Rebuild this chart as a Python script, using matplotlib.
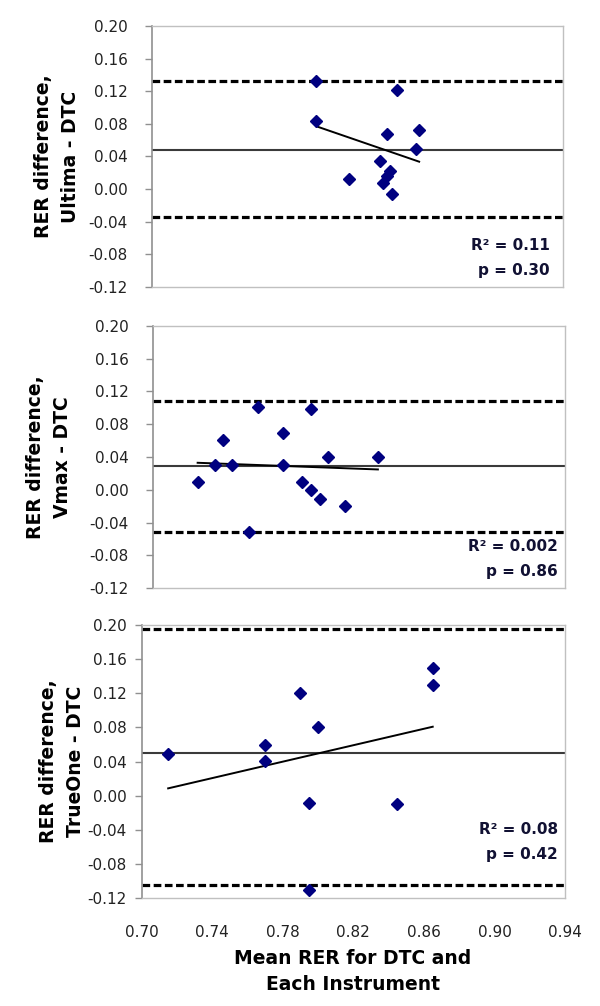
import numpy as np
import matplotlib
matplotlib.use("Agg")
import matplotlib.pyplot as plt

plt.rcParams['font.family'] = ['DejaVu Sans']

# ---------------- data ----------------
ultima_x = [0.796, 0.843, 0.796, 0.837, 0.856, 0.854, 0.833, 0.815, 0.839, 0.837, 0.835, 0.840]
ultima_y = [0.132, 0.121, 0.083, 0.068, 0.073, 0.049, 0.035, 0.013, 0.022, 0.016, 0.008, -0.006]

vmax_x = [0.726, 0.736, 0.741, 0.746, 0.761, 0.756, 0.776, 0.776, 0.787, 0.792, 0.792, 0.797, 0.802, 0.812, 0.831]
vmax_y = [0.010, 0.030, 0.061, 0.030, 0.101, -0.051, 0.069, 0.030, 0.010, 0.098, 0.000, -0.011, 0.040, -0.020, 0.040]

trueone_x = [0.715, 0.770, 0.770, 0.790, 0.800, 0.795, 0.795, 0.845, 0.865, 0.865]
trueone_y = [0.049, 0.060, 0.041, 0.120, 0.080, -0.009, -0.110, -0.010, 0.150, 0.130]

# bias and limits of agreement (mean, upper, lower)
ultima_limits = [0.048, 0.132, -0.034]
vmax_limits = [0.029, 0.108, -0.051]
trueone_limits = [0.050, 0.195, -0.104]

ylabels = ["RER difference,\nUltima - DTC", "RER difference,\nVmax - DTC", "RER difference,\nTrueOne - DTC"]
stats_text = [("R\u00b2 = 0.11", "p = 0.30"), ("R\u00b2 = 0.002", "p = 0.86"), ("R\u00b2 = 0.08", "p = 0.42")]

yticks = [-0.12, -0.08, -0.04, 0.00, 0.04, 0.08, 0.12, 0.16, 0.20]
xticks = [0.70, 0.74, 0.78, 0.82, 0.86, 0.90, 0.94]
xlabel = "Mean RER for DTC and\nEach Instrument"

# ---------------- layout ----------------
W, H = 600, 1006
fig = plt.figure(figsize=(W / 100, H / 100), dpi=100)

def box(l, r, t, b):
    return [l / W, 1 - b / H, (r - l) / W, (b - t) / H]

boxes = [box(152, 563, 26, 287), box(153, 565, 325.7, 588.3), box(141.7, 565, 625, 898.3)]
label_x = [57, 49, 62]
ypads = [13.5, 13.5, 7.0]
stat_pos = [(550, 245, 270), (558, 546.7, 571.7), (558, 829.3, 855)]

xs = [ultima_x, vmax_x, trueone_x]
ys = [ultima_y, vmax_y, trueone_y]
lims = [ultima_limits, vmax_limits, trueone_limits]

for i in range(3):
    ax = fig.add_axes(boxes[i])
    x = np.array(xs[i])
    y = np.array(ys[i])
    mean, up, lo = lims[i]
    ax.axhline(mean, color='#3a3a3a', lw=1.5, zorder=2)
    ax.axhline(up, color='black', lw=2.3, linestyle=(0, (2.4, 1.1)), zorder=2)
    ax.axhline(lo, color='black', lw=2.3, linestyle=(0, (2.4, 1.1)), zorder=2)
    # regression line
    k, c = np.polyfit(x, y, 1)
    xr = np.array([x.min(), x.max()])
    ax.plot(xr, k * xr + c, color='black', lw=1.4, zorder=3)
    ax.plot(x, y, linestyle='none', marker='D', markersize=6.3,
            color='#000080', markeredgecolor='#000080', zorder=4, clip_on=False)

    ax.set_xlim(0.70, 0.94)
    ax.set_ylim(-0.12, 0.20)
    ax.set_yticks(yticks)
    ax.set_yticklabels([f"{v:.2f}" for v in yticks])
    ax.tick_params(axis='y', direction='out', length=5, width=1, color='#909090',
                   labelsize=11, labelcolor='#222222', pad=ypads[i] - 1)
    for s in ['top', 'right', 'bottom']:
        ax.spines[s].set_color('#c0c0c0')
        ax.spines[s].set_linewidth(1.0)
    ax.spines['left'].set_color('#909090')
    ax.spines['left'].set_linewidth(1.2)

    if i < 2:
        ax.set_xticks([])
    else:
        ax.set_xticks(xticks)
        ax.set_xticklabels([f"{v:.2f}" for v in xticks])
        ax.tick_params(axis='x', length=0, labelsize=11, labelcolor='#222222', pad=19)

    cy = (1 - (boxes[i][1] + boxes[i][3] / 2))
    fig.text(label_x[i] / W, 1 - cy, ylabels[i], rotation=90, ha='center', va='center',
             multialignment='center', fontsize=13.5, fontweight='bold', linespacing=1.5)

    sx, sy1, sy2 = stat_pos[i]
    fig.text(sx / W, 1 - sy1 / H, stats_text[i][0], ha='right', va='center',
             fontsize=11, fontweight='bold', color='#111133')
    fig.text(sx / W, 1 - sy2 / H, stats_text[i][1], ha='right', va='center',
             fontsize=11, fontweight='bold', color='#111133')

fig.text(353 / W, 1 - 971.5 / H, xlabel, ha='center', va='center', multialignment='center',
         fontsize=13.5, fontweight='bold', linespacing=1.45)

fig.savefig("out.png", dpi=100)
